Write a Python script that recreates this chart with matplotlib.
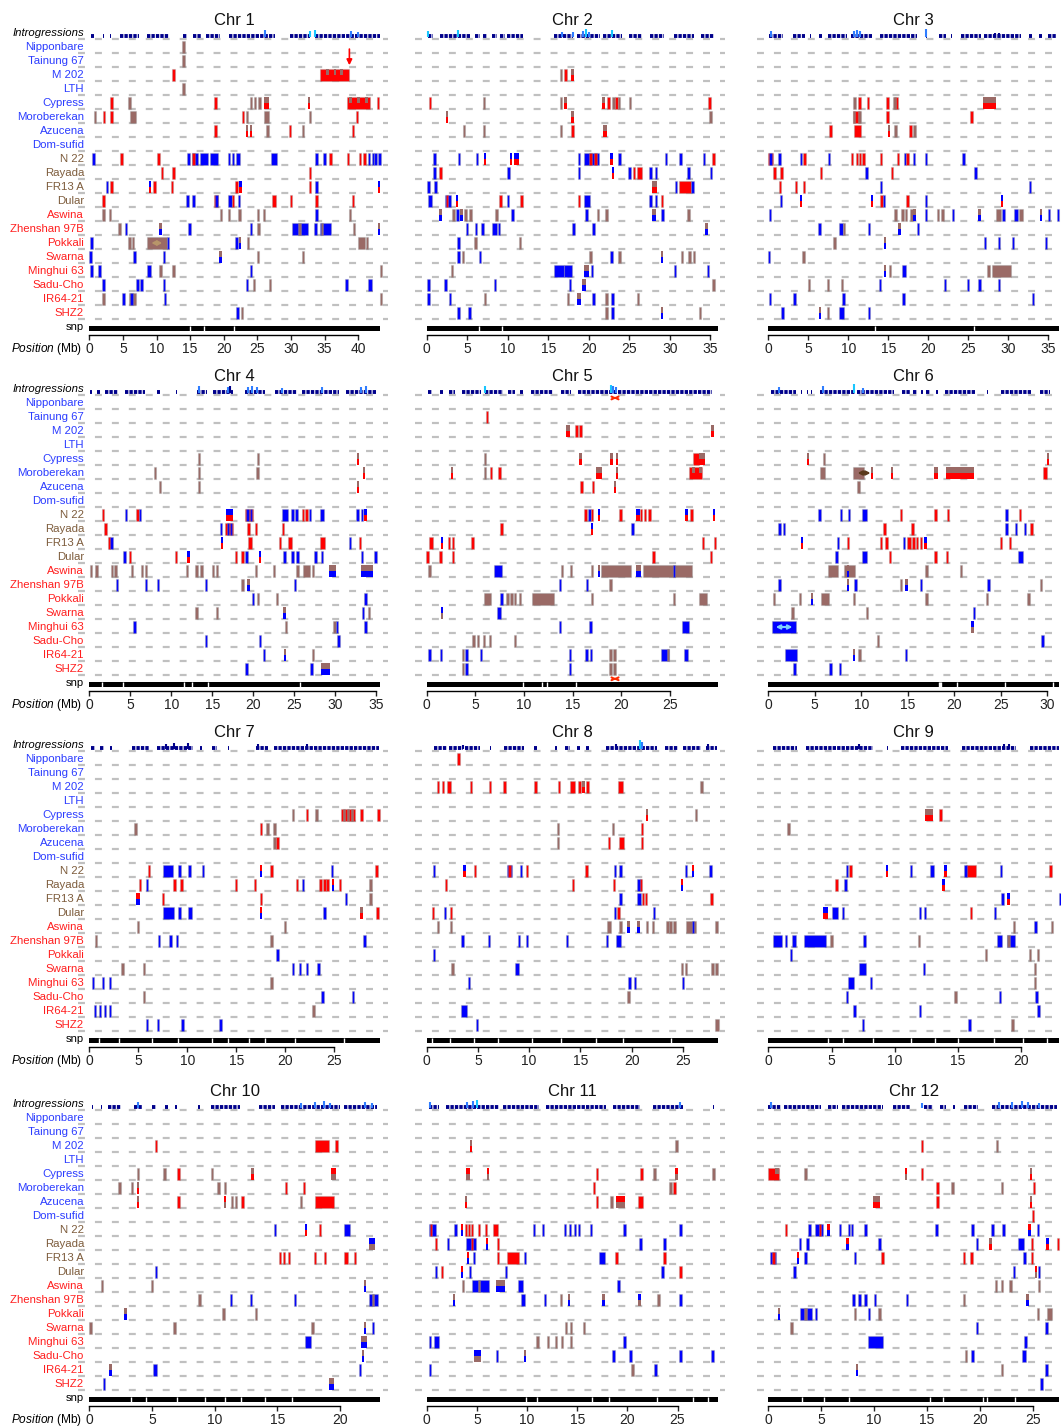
import matplotlib
matplotlib.use('Agg')
import matplotlib.pyplot as plt
from matplotlib import transforms
from matplotlib.patches import Rectangle

plt.rcParams['font.family'] = ['Liberation Sans', 'DejaVu Sans']
plt.rcParams['mathtext.fontset'] = 'custom'
plt.rcParams['mathtext.rm'] = 'Liberation Sans'
plt.rcParams['mathtext.it'] = 'Liberation Sans:italic'
plt.rcParams['lines.scale_dashes'] = False

accessions = ['Nipponbare', 'Tainung 67', 'M 202', 'LTH', 'Cypress', 'Moroberekan',
              'Azucena', 'Dom-sufid', 'N 22', 'Rayada', 'FR13 A', 'Dular', 'Aswina',
              'Zhenshan 97B', 'Pokkali', 'Swarna', 'Minghui 63', 'Sadu-Cho', 'IR64-21', 'SHZ2']
label_colors = ['#2b3cff'] * 8 + ['#7d5c3c'] * 4 + ['#ff1e1e'] * 8

chr_names = ['Chr %d' % i for i in range(1, 13)]
chr_len = [43.3, 35.9, 36.4, 35.5, 29.9, 31.3, 29.7, 28.4, 23.0, 23.2, 29.0, 27.5]

# segments per accession row: (pos, code) or (start, end, code)
# code: r red, b blue, m brown; two letters = top half / bottom half
chr1_segs = [
    [(14.0, 'm')],
    [(14.0, 'm')],
    [(12.5, 'r'), (34.4, 38.7, 'r'), (35.3, 35.6, 'mr'), (36.4, 36.7, 'mr'), (37.4, 37.6, 'mr')],
    [(14.0, 'm')],
    [(3.3, 'r'), (6.0, 'm'), (18.8, 'r'), (24.1, 'm'), (24.7, 'm'), (25.3, 'm'), (26.0, 26.7, 'mr'), (32.7, 'mr'),
     (38.4, 41.7, 'r'), (38.7, 39.1, 'mr'), (39.9, 40.3, 'mr'), (41.0, 41.4, 'mr'), (43.0, 'r')],
    [(0.85, 'm'), (2.2, 'r'), (3.3, 'r'), (6.0, 6.9, 'm'), (22.9, 'r'), (23.5, 'm'), (26.0, 26.7, 'm'), (32.8, 'm'), (39.8, 'r')],
    [(18.8, 'r'), (23.5, 'mr'), (24.1, 'mr'), (26.5, 'm'), (29.9, 'r'), (31.8, 'm'), (39.2, 'r')],
    [],
    [(0.6, 'b'), (4.8, 'r'), (10.3, 'r'), (14.6, 15.0, 'b'), (15.3, 16.2, 'b'), (16.5, 17.7, 'b'), (18.0, 19.1, 'b'),
     (15.5, 'r'), (20.7, 20.9, 'b'), (21.2, 21.5, 'b'), (21.8, 22.4, 'b'), (27.1, 27.9, 'b'), (33.8, 'b'), (35.0, 'b'),
     (35.9, 'r'), (38.5, 'r'), (40.1, 40.4, 'r'), (40.8, 41.1, 'r'), (41.6, 'b'), (42.2, 'b'), (42.6, 'b'), (43.2, 'b')],
    [(10.8, 'r'), (12.5, 'r'), (32.8, 'r')],
    [(2.6, 'b'), (3.3, 'r'), (9.0, 'br'), (9.7, 'r'), (12.3, 'r'), (21.7, 22.2, 'r'), (22.5, 'br'), (32.8, 'r'), (33.8, 'b'), (43.1, 'br')],
    [(2.1, 'r'), (14.6, 'b'), (15.5, 'b'), (18.6, 19.1, 'r'), (18.9, 'b'), (20.7, 21.2, 'b'), (21.4, 'r'), (22.3, 'b'),
     (27.2, 27.8, 'r'), (29.8, 30.2, 'r'), (33.8, 'r'), (39.2, 'r')],
    [(2.1, 'm'), (3.1, 'm'), (19.6, 'm'), (20.8, 'm'), (22.2, 22.6, 'm'), (25.1, 'm'), (26.0, 'm'), (33.8, 'b'), (38.8, 'm')],
    [(4.5, 'm'), (5.5, 'b'), (10.6, 'mb'), (14.9, 'b'), (24.1, 'b'), (25.2, 'm'), (30.2, 32.6, 'b'), (31.3, 'm'),
     (33.4, 33.9, 'b'), (34.3, 35.9, 'b'), (34.6, 'm'), (39.4, 'm'), (43.1, 'mb')],
    [(0.1, 0.6, 'b'), (6.0, 'm'), (6.5, 'm'), (8.6, 11.5, 'm'), (11.5, 11.9, 'b'), (21.9, 'b'), (22.3, 22.6, 'mb'),
     (23.6, 'm'), (40.0, 41.0, 'm'), (41.3, 'm')],
    [(0.2, 'b'), (6.7, 'b'), (11.1, 'b'), (19.5, 'mb'), (25.1, 'm'), (31.8, 'm')],
    [(0.1, 0.5, 'b'), (1.5, 'b'), (8.6, 9.2, 'b'), (10.6, 'm'), (12.5, 'm'), (24.1, 'b'), (43.4, 'm')],
    [(2.1, 'b'), (7.1, 7.3, 'b'), (7.6, 7.9, 'b'), (11.1, 'b'), (23.5, 'b'), (24.5, 'm'), (26.9, 'm'), (38.3, 'b'), (41.5, 42.0, 'b')],
    [(2.1, 'm'), (5.1, 'b'), (5.9, 6.9, 'm'), (6.3, 'b'), (11.1, 11.4, 'b'), (43.4, 'm')],
    [(21.9, 22.3, 'b'), (22.7, 'm')],
]

chr2_segs = [
    [], [],
    [(16.6, 'm'), (17.1, 'r'), (18.0, 'mr')],
    [],
    [(0.4, 'r'), (7.1, 'm'), (16.6, 'm'), (17.1, 'mr'), (21.6, 22.0, 'mr'), (22.2, 22.6, 'r'), (22.9, 23.2, 'm'),
     (23.4, 'r'), (23.7, 'm'), (24.9, 25.2, 'm'), (34.9, 'r')],
    [(2.5, 'mr'), (18.0, 'mr'), (35.0, 'm')],
    [(4.6, 'm'), (7.1, 'm'), (16.6, 'm'), (18.0, 'r'), (21.8, 22.2, 'mr')],
    [],
    [(0.95, 'b'), (4.0, 'b'), (6.2, 'b'), (7.2, 'br'), (10.4, 'br'), (10.8, 11.4, 'br'), (18.8, 'b'), (19.4, 21.2, 'b'),
     (20.2, 'r'), (20.8, 'r'), (22.8, 'br'), (23.8, 'b'), (29.5, 'b'), (31.3, 'b'), (34.2, 'b'), (35.4, 'r')],
    [(0.95, 'b'), (1.7, 'r'), (10.0, 10.2, 'b'), (18.8, 'b'), (23.0, 'br'), (25.0, 'b'), (25.4, 25.7, 'r'), (25.9, 26.6, 'r'),
     (27.6, 'b'), (28.3, 'b'), (32.3, 'b'), (35.1, 'b')],
    [(0.2, 'b'), (1.1, 'b'), (27.8, 28.4, 'mr'), (30.6, 30.9, 'b'), (31.1, 32.6, 'r'), (32.8, 'b')],
    [(0.1, 0.6, 'b'), (2.2, 3.0, 'b'), (2.5, 'r'), (3.6, 3.9, 'br'), (9.1, 'r'), (10.0, 'b'), (11.7, 'r'), (18.8, 'r'),
     (19.4, 20.2, 'b'), (27.6, 'b'), (28.3, 'b'), (29.0, 'r')],
    [(1.7, 'mb'), (3.2, 3.4, 'm'), (3.8, 'b'), (4.3, 'mb'), (4.8, 'm'), (5.4, 'm'), (8.6, 'm'), (10.6, 'b'), (19.7, 'b'),
     (21.1, 'm'), (22.2, 'm'), (27.8, 28.3, 'mb'), (29.1, 'b'), (32.3, 'm')],
    [(5.0, 'b'), (6.1, 'b'), (6.9, 'b'), (8.0, 8.7, 'b'), (8.9, 'b'), (18.1, 'b'), (20.6, 'b'), (34.5, 'mb')],
    [(3.9, 'b'), (6.0, 'm'), (11.5, 'm')],
    [(3.9, 'b'), (4.5, 'm'), (6.6, 'b'), (20.2, 'm'), (22.8, 'b'), (23.8, 'm'), (29.0, 'mb'), (31.5, 'm'), (32.3, 32.5, 'm'), (33.0, 'm')],
    [(3.1, 'm'), (15.7, 16.9, 'b'), (17.0, 17.9, 'b'), (19.4, 20.0, 'mb'), (20.4, 'b'), (30.6, 'b'), (34.7, 'b')],
    [(0.2, 'b'), (2.3, 'b'), (8.4, 'b'), (17.7, 'b'), (19.2, 19.6, 'mb'), (35.4, 'm')],
    [(0.2, 'b'), (2.9, 'b'), (7.2, 'm'), (17.3, 17.6, 'm'), (18.6, 19.0, 'mb'), (20.6, 'b'), (22.2, 'm'), (22.9, 'b'), (26.1, 'm')],
    [(3.9, 'b'), (5.2, 5.4, 'b'), (22.2, 'm'), (22.9, 'b'), (29.0, 'mb'), (33.7, 'm')],
]

chr3_segs = [
    [], [], [], [],
    [(10.8, 'm'), (11.4, 'r'), (12.5, 'r'), (14.9, 'r'), (15.7, 16.2, 'r'), (15.8, 'm'), (26.9, 28.5, 'mr')],
    [(10.6, 11.5, 'r'), (10.7, 'm'), (11.4, 'm'), (14.9, 'r'), (25.2, 25.6, 'r')],
    [(7.8, 'r'), (10.7, 11.6, 'r'), (15.1, 'mr'), (15.9, 'm'), (17.8, 'r'), (18.3, 'm')],
    [],
    [(0.0, 0.6, 'r'), (0.3, 'b'), (1.4, 'b'), (4.1, 'b'), (4.4, 4.7, 'r'), (7.6, 'b'), (10.3, 10.6, 'r'), (11.1, 'r'),
     (11.5, 'r'), (11.9, 'r'), (14.1, 'r'), (16.2, 'r'), (17.1, 'b'), (17.4, 'r'), (18.2, 'b'), (19.7, 'b'), (24.4, 'b')],
    [(0.8, 'r'), (1.5, 1.9, 'r'), (6.6, 'r'), (12.3, 'b'), (15.5, 'r'), (25.9, 'b')],
    [(1.5, 'r'), (3.5, 'r'), (4.5, 'r'), (14.1, 'b'), (32.7, 'b')],
    [(1.5, 1.7, 'b'), (4.1, 'br'), (13.0, 'br'), (14.0, 14.4, 'r'), (14.5, 'b'), (17.4, 'r'), (19.7, 'b'), (29.2, 'br')],
    [(0.2, 'b'), (15.9, 'm'), (16.8, 'm'), (17.2, 'm'), (17.9, 'm'), (18.3, 'mb'), (19.7, 'b'), (21.2, 'm'), (21.8, 'm'),
     (23.1, 'b'), (26.4, 'mb'), (28.5, 29.1, 'm'), (29.4, 'b'), (30.7, 31.2, 'b'), (31.3, 31.9, 'm'), (34.1, 'mb'),
     (35.1, 'b'), (36.2, 'b')],
    [(6.4, 'b'), (8.9, 9.4, 'b'), (9.5, 'm'), (12.6, 'b'), (16.2, 16.6, 'mb'), (18.7, 'b')],
    [(8.1, 8.5, 'm'), (14.6, 'mb'), (27.1, 'b'), (28.7, 29.0, 'b'), (30.6, 'b'), (34.7, 'b')],
    [(0.1, 'b'), (4.4, 'm')],
    [(14.6, 'mb'), (15.2, 'm'), (16.7, 17.2, 'b'), (27.3, 27.7, 'm'), (28.0, 30.3, 'm')],
    [(5.1, 'm'), (7.5, 'm'), (9.2, 'm'), (14.0, 'b'), (22.1, 'b'), (24.9, 25.1, 'b'), (26.4, 'b'), (28.7, 29.0, 'b')],
    [(0.2, 'b'), (3.3, 'b'), (9.4, 'b'), (16.9, 'b'), (33.1, 'b')],
    [(1.8, 'b'), (6.5, 'mb'), (7.5, 'm'), (8.9, 9.5, 'b'), (12.6, 'b')],
]

chr4_segs = [
    [], [], [], [],
    [(13.4, 'm'), (20.6, 'm'), (32.8, 'mr')],
    [(8.0, 'm'), (13.4, 'm'), (20.5, 'm'), (33.5, 'mr')],
    [(8.6, 'm'), (13.4, 'm'), (32.8, 'mr')],
    [],
    [(1.7, 'r'), (4.5, 'b'), (5.9, 'r'), (6.2, 'b'), (16.7, 17.5, 'br'), (19.0, 20.0, 'r'), (19.3, 'b'), (19.7, 'b'),
     (23.5, 24.2, 'b'), (24.8, 'b'), (25.3, 'b'), (26.1, 'r'), (26.5, 'r'), (26.9, 'b'), (28.1, 28.6, 'b'), (32.7, 'b'),
     (33.3, 'b'), (33.7, 'br')],
    [(2.0, 'r'), (16.1, 'b'), (16.6, 17.5, 'r'), (16.9, 'b'), (17.3, 'b'), (19.4, 'r'), (20.2, 20.5, 'r'), (23.6, 'r')],
    [(2.4, 2.9, 'b'), (2.4, 'r'), (16.2, 'br'), (19.4, 19.8, 'r'), (23.3, 'r'), (24.3, 24.7, 'r'), (28.2, 28.7, 'r'),
     (31.8, 'b'), (33.0, 'r')],
    [(4.3, 'b'), (5.0, 'r'), (10.6, 'r'), (12.0, 12.2, 'br'), (17.9, 'r'), (18.7, 'r'), (19.2, 'b'), (20.8, 'br'),
     (23.6, 24.0, 'b'), (24.8, 'b'), (25.4, 'b'), (27.5, 27.7, 'b'), (28.4, 'b'), (33.3, 'b'), (34.9, 'b')],
    [(0.1, 0.3, 'm'), (0.9, 'm'), (2.8, 'm'), (3.2, 'm'), (5.2, 'm'), (6.4, 'm'), (6.9, 'm'), (11.9, 'm'), (13.1, 'm'),
     (13.7, 'm'), (15.1, 'm'), (15.6, 'm'), (20.3, 'm'), (22.5, 'm'), (25.4, 'm'), (26.1, 26.9, 'm'), (27.3, 'm'),
     (29.3, 30.1, 'mb'), (33.2, 34.6, 'mb')],
    [(3.4, 'b'), (6.9, 'b'), (8.4, 'b'), (14.2, 'b'), (18.7, 'm'), (19.4, 'mb'), (25.1, 'b')],
    [(19.9, 20.1, 'b'), (20.4, 20.7, 'm'), (22.9, 'm'), (33.7, 'b')],
    [(13.1, 'm'), (15.6, 'm'), (23.8, 'mb'), (33.4, 'b'), (34.1, 'm')],
    [(5.4, 5.6, 'b'), (24.0, 'm'), (29.9, 'm'), (30.2, 'b'), (33.7, 'b')],
    [(14.2, 'b'), (20.8, 'b'), (30.4, 'b')],
    [(21.3, 'b'), (23.8, 24.0, 'mb'), (27.3, 'm')],
    [(19.2, 'b'), (27.1, 'b'), (28.3, 29.4, 'mb')],
]

chr5_segs = [
    [],
    [(6.2, 'r')],
    [(14.3, 14.7, 'mr'), (15.4, 'r'), (15.8, 'r'), (29.2, 29.5, 'mr')],
    [],
    [(6.0, 'm'), (15.8, 'mr'), (19.0, 'mr'), (19.4, 19.7, 'mr'), (27.4, 28.0, 'r'), (28.0, 28.6, 'mr')],
    [(2.6, 'mr'), (6.0, 'm'), (6.6, 'r'), (7.5, 'r'), (17.4, 18.0, 'mr'), (19.4, 19.7, 'mr'), (27.0, 28.3, 'r'),
     (27.3, 27.6, 'mr'), (28.0, 28.3, 'mr')],
    [(15.9, 'r'), (17.0, 17.2, 'r'), (19.3, 19.4, 'mr')],
    [],
    [(16.2, 16.4, 'r'), (16.6, 16.9, 'b'), (17.0, 'r'), (17.7, 'br'), (19.9, 'r'), (21.5, 21.9, 'br'), (22.0, 'r'),
     (22.4, 'r'), (22.7, 23.0, 'r'), (26.7, 'br'), (27.2, 'r'), (29.5, 'br')],
    [(7.7, 'r'), (17.0, 'br'), (21.1, 21.2, 'b')],
    [(0.2, 0.6, 'r'), (1.6, 'br'), (2.3, 'r'), (2.7, 'r'), (4.7, 'r'), (28.4, 'r'), (29.6, 'r')],
    [(0.1, 'r'), (1.4, 'r'), (2.7, 'r'), (23.3, 'r'), (29.2, 'r')],
    [(0.3, 'm'), (6.9, 7.7, 'b'), (13.9, 'm'), (14.8, 'm'), (17.0, 'm'), (17.7, 'mb'), (17.9, 21.0, 'm'),
     (21.5, 22.0, 'mb'), (22.2, 27.3, 'm'), (25.4, 'b')],
    [(13.7, 'b'), (16.5, 'b'), (18.9, 'm')],
    [(5.9, 6.6, 'm'), (7.7, 'b'), (8.3, 'm'), (8.7, 'm'), (9.1, 'm'), (9.6, 'm'), (10.8, 13.1, 'm'), (17.0, 'm'),
     (25.4, 'm'), (28.0, 28.8, 'm')],
    [(1.5, 1.7, 'bm'), (7.2, 7.6, 'b')],
    [(13.7, 'b'), (16.7, 17.0, 'b'), (26.2, 26.9, 'b')],
    [(4.8, 'm'), (5.3, 'm'), (5.9, 'm'), (6.5, 'm'), (9.1, 'm')],
    [(0.3, 'b'), (1.5, 'b'), (3.7, 'm'), (4.1, 'b'), (5.6, 'b'), (14.7, 'b'), (16.4, 'b'), (16.9, 'b'), (18.9, 'm'),
     (19.3, 'm'), (24.1, 24.9, 'b'), (24.8, 'm'), (26.4, 26.8, 'b')],
    [(3.7, 'm'), (4.1, 'b'), (14.7, 'b'), (18.9, 'm'), (19.3, 'm')],
]

chr6_segs = [
    [], [], [], [],
    [(4.3, 'mr'), (5.9, 6.1, 'm'), (30.1, 'mr')],
    [(5.6, 6.1, 'm'), (9.1, 10.3, 'm'), (11.0, 11.3, 'mr'), (13.2, 13.4, 'mr'), (17.8, 18.2, 'mr'), (19.1, 22.1, 'mr'),
     (29.6, 30.0, 'r')],
    [(9.5, 9.9, 'm')],
    [],
    [(5.5, 'b'), (7.8, 'b'), (8.7, 'b'), (10.1, 10.6, 'b'), (14.3, 'r'), (18.0, 'r'), (19.2, 19.4, 'r'), (25.6, 'b'), (27.1, 'r')],
    [(1.2, 'b'), (1.7, 'b'), (12.4, 12.6, 'r'), (15.5, 'r'), (25.6, 'b'), (26.5, 26.8, 'b'), (27.6, 'b'), (28.3, 'r')],
    [(3.6, 'br'), (7.5, 'b'), (8.6, 'r'), (12.1, 'r'), (12.6, 12.9, 'r'), (14.6, 'b'), (14.9, 15.3, 'r'), (15.6, 'r'),
     (16.0, 'r'), (16.4, 'r'), (16.9, 'br'), (25.0, 'r'), (26.0, 'r')],
    [(7.3, 7.4, 'b'), (10.1, 10.6, 'b'), (13.1, 'r'), (18.0, 'r'), (19.2, 'r'), (26.9, 27.4, 'b')],
    [(6.4, 7.5, 'm'), (8.1, 9.3, 'm'), (8.6, 'mb'), (17.0, 'm'), (20.7, 'm')],
    [(1.2, 'b'), (8.6, 'mb'), (9.4, 'b'), (14.3, 'm'), (14.7, 15.0, 'mb'), (16.4, 'b'), (23.7, 'b'), (29.3, 'm')],
    [(0.6, 'm'), (3.4, 'm'), (4.7, 'mb'), (5.7, 6.5, 'm'), (9.2, 'm'), (17.0, 'm'), (23.5, 'm'), (28.0, 'm')],
    [(2.6, 'm'), (10.6, 'm'), (22.1, 'b')],
    [(0.4, 3.0, 'b'), (21.9, 22.0, 'bm')],
    [(11.8, 'm'), (29.5, 'b')],
    [(1.8, 3.1, 'b'), (9.2, 'mb'), (9.8, 'm'), (14.8, 'b')],
    [(2.8, 'b'), (6.5, 6.9, 'b'), (7.7, 'b')],
]

chr7_segs = [
    [], [], [], [],
    [(20.8, 'm'), (22.2, 'r'), (23.2, 'm'), (25.7, 27.1, 'r'), (26.0, 'm'), (26.4, 'm'), (26.8, 'm'), (27.8, 'r'), (29.4, 29.6, 'r')],
    [(4.7, 'm'), (17.5, 'r'), (18.2, 'm'), (18.9, 'm')],
    [(18.9, 'm'), (19.2, 'r')],
    [],
    [(6.1, 'r'), (7.5, 8.5, 'b'), (9.2, 'b'), (10.1, 10.4, 'b'), (11.6, 'b'), (17.5, 'rb'), (18.6, 'r'), (24.8, 'b'), (29.3, 'r')],
    [(5.2, 'r'), (5.9, 'b'), (8.7, 'r'), (9.4, 'r'), (15.0, 'r'), (16.9, 'r'), (21.2, 'r'), (21.8, 'b'), (23.6, 'r'),
     (24.0, 'r'), (24.3, 'r'), (24.9, 'rb'), (25.6, 'r'), (28.7, 'm')],
    [(4.8, 5.2, 'rb'), (7.5, 'r'), (17.5, 'r'), (26.2, 'b'), (28.7, 'm')],
    [(7.5, 8.6, 'b'), (9.2, 'b'), (10.1, 10.5, 'b'), (17.5, 'rb'), (24.0, 'b'), (27.8, 'mr'), (29.4, 'r')],
    [(5.0, 'm'), (20.0, 'm')],
    [(0.7, 'm'), (7.1, 'b'), (8.3, 'b'), (8.8, 9.1, 'b'), (18.6, 'm'), (28.1, 'b')],
    [(19.2, 'b')],
    [(3.4, 'm'), (5.6, 'm'), (20.8, 'b'), (21.5, 'b'), (22.2, 'b'), (23.2, 23.5, 'b')],
    [(0.4, 'b'), (1.4, 'b'), (2.1, 'b'), (18.6, 'm')],
    [(5.6, 'm'), (23.8, 'b'), (26.9, 'b')],
    [(0.6, 'b'), (1.1, 'b'), (1.6, 'b'), (2.1, 'b'), (22.9, 'm')],
    [(5.9, 'b'), (7.0, 'b'), (9.5, 'b'), (13.4, 'b')],
]

chr8_segs = [
    [(3.1, 'r')],
    [],
    [(1.1, 'r'), (1.6, 'r'), (2.0, 2.4, 'r'), (4.3, 'r'), (6.2, 'r'), (7.6, 'r'), (10.6, 'r'), (12.9, 'r'), (14.0, 14.5, 'r'),
     (14.9, 'r'), (15.3, 'mr'), (15.7, 'r'), (18.7, 19.2, 'r'), (26.8, 'm')],
    [],
    [(21.5, 'mr'), (26.3, 'm')],
    [(12.8, 'm'), (18.2, 'm'), (21.0, 'r')],
    [(12.8, 'm'), (17.8, 'r'), (18.8, 19.3, 'r'), (21.0, 'r')],
    [],
    [(0.7, 'b'), (3.7, 'br'), (4.7, 'r'), (7.8, 8.3, 'b'), (8.1, 'r'), (9.2, 'b'), (9.8, 'r'), (15.6, 'r'), (18.4, 'b'),
     (18.9, 'b'), (25.3, 'b'), (26.0, 'rb'), (27.7, 'b')],
    [(1.9, 'r'), (14.3, 'r'), (18.3, 'r'), (20.5, 20.9, 'b'), (20.9, 'r'), (24.9, 'rb')],
    [(18.9, 'b'), (20.5, 20.9, 'b'), (21.1, 'r'), (21.4, 'r'), (27.8, 'r')],
    [(0.6, 'r'), (1.8, 'b'), (2.4, 'r'), (18.4, 'b'), (18.7, 'r'), (22.2, 'b')],
    [(1.1, 'm'), (2.4, 'm'), (17.6, 18.0, 'm'), (18.9, 'm'), (19.7, 'mb'), (20.5, 20.8, 'mb'), (21.5, 'm'), (22.1, 'm'),
     (23.5, 'm'), (23.8, 'm'), (24.2, 'm'), (25.3, 26.3, 'm'), (26.0, 'b'), (28.3, 'm')],
    [(3.5, 'b'), (6.1, 'b'), (9.0, 'b'), (9.8, 'b'), (13.7, 'b'), (17.6, 'b'), (18.5, 19.0, 'b')],
    [(0.7, 'b')],
    [(2.5, 'm'), (8.6, 9.0, 'b'), (24.9, 'm'), (25.3, 'm'), (27.9, 'm'), (28.3, 'm')],
    [(4.1, 'b'), (19.8, 'b'), (20.3, 'b'), (25.0, 'b')],
    [(19.7, 'm')],
    [(3.3, 3.9, 'b')],
    [(4.9, 'b'), (28.1, 28.5, 'm')],
]

chr9_segs = [
    [], [], [], [],
    [(12.4, 13.0, 'mr'), (13.5, 13.7, 'r')],
    [(1.6, 'm')],
    [], [],
    [(6.2, 'b'), (6.5, 'r'), (9.4, 'br'), (11.3, 'b'), (12.8, 13.1, 'b'), (14.0, 'br'), (15.6, 16.4, 'r'), (15.6, 'b'),
     (18.3, 18.5, 'b'), (22.3, 'r')],
    [(5.4, 'r'), (6.1, 'b'), (13.7, 14.0, 'br')],
    [(18.5, 'b'), (19.0, 'br'), (23.1, 'b')],
    [(4.3, 4.7, 'br'), (5.0, 5.5, 'b'), (5.9, 'b'), (12.0, 'b'), (12.4, 'b'), (16.0, 'r'), (17.9, 'b')],
    [(19.4, 'm'), (21.0, 21.2, 'b'), (22.4, 'm')],
    [(0.4, 1.1, 'b'), (1.3, 1.5, 'b'), (1.9, 2.2, 'b'), (2.8, 4.6, 'b'), (5.0, 'm'), (7.6, 'b'), (11.9, 'm'),
     (18.1, 18.5, 'b'), (18.9, 19.5, 'b'), (19.0, 'm')],
    [(1.7, 1.9, 'b'), (17.2, 'm'), (20.7, 'm'), (21.3, 'm')],
    [(7.2, 7.7, 'b'), (12.3, 'b'), (21.1, 'm')],
    [(6.3, 6.8, 'b'), (8.1, 'b'), (21.1, 'm')],
    [(6.2, 'b'), (14.8, 'm'), (18.3, 'b'), (21.2, 'b')],
    [(6.8, 'b'), (12.0, 'b'), (21.2, 21.5, 'b')],
    [(7.4, 7.6, 'b'), (15.9, 'b'), (19.3, 'm')],
]

chr10_segs = [
    [], [],
    [(5.3, 'r'), (18.0, 19.1, 'r'), (19.7, 'r')],
    [],
    [(3.9, 'm'), (6.0, 'm'), (7.1, 'r'), (9.8, 'm'), (12.9, 13.1, 'mr'), (19.3, 19.7, 'rm')],
    [(2.4, 'm'), (3.4, 'm'), (3.9, 'mr'), (10.3, 'm'), (10.8, 'm'), (15.7, 'r'), (17.1, 'r')],
    [(3.9, 'mr'), (7.1, 'r'), (10.8, 'rm'), (11.4, 'm'), (11.7, 'm'), (12.2, 'r'), (16.9, 'm'), (18.0, 19.5, 'r')],
    [],
    [(14.8, 'b'), (17.3, 'br'), (18.4, 'r'), (20.3, 20.8, 'b')],
    [(22.3, 22.8, 'bm')],
    [(15.2, 'r'), (15.5, 'r'), (15.9, 'r'), (18.0, 'r'), (18.8, 'r'), (20.3, 20.6, 'r'), (21.2, 'r')],
    [(5.3, 'b')],
    [(1.0, 'm'), (5.0, 'm'), (22.0, 'mb')],
    [(8.8, 'm'), (11.3, 'b'), (12.9, 'b'), (16.4, 'b'), (22.3, 23.0, 'b'), (22.6, 'm')],
    [(2.9, 'mb'), (10.7, 'm'), (13.3, 'm')],
    [(0.1, 'm'), (6.8, 'm'), (17.8, 'm'), (22.0, 'mb'), (22.6, 'b')],
    [(17.2, 17.7, 'b'), (21.7, 22.1, 'mb')],
    [(21.8, 'mb')],
    [(1.7, 'mb'), (5.1, 5.4, 'b'), (21.6, 'b')],
    [(1.1, 1.2, 'b'), (19.1, 19.5, 'mb')],
]

chr11_segs = [
    [], [],
    [(4.4, 'mr'), (24.9, 'm')],
    [],
    [(3.9, 4.3, 'rm'), (6.0, 6.2, 'rm'), (17.0, 'r'), (21.4, 'r'), (22.7, 'm'), (24.9, 'rm'), (28.6, 'm')],
    [(16.7, 'r'), (24.3, 'm'), (24.7, 'r')],
    [(3.9, 'mr'), (17.0, 'r'), (18.4, 'm'), (18.9, 19.8, 'rm'), (21.1, 21.6, 'r')],
    [],
    [(0.2, 0.9, 'b'), (0.4, 'r'), (2.7, 3.0, 'b'), (3.5, 'rb'), (3.9, 'r'), (4.2, 'r'), (4.5, 'r'), (5.2, 'r'), (5.9, 'r'),
     (6.6, 7.1, 'r'), (10.7, 'b'), (11.6, 'b'), (13.8, 'b'), (14.3, 'b'), (14.8, 'b'), (15.2, 'b'), (16.4, 'b'),
     (19.7, 'b'), (25.3, 'b')],
    [(0.9, 'r'), (2.1, 'b'), (3.9, 4.9, 'b'), (4.5, 'r'), (6.0, 'rb'), (7.1, 'r'), (21.3, 'b'), (23.7, 'b')],
    [(4.1, 'rb'), (4.7, 'b'), (7.1, 'r'), (8.0, 9.2, 'r'), (9.8, 'b'), (17.2, 17.8, 'b'), (18.9, 'r'), (23.7, 'r')],
    [(0.9, 'b'), (1.5, 'r'), (3.5, 'rb'), (4.3, 'b'), (7.9, 'b'), (23.5, 'b'), (25.3, 'r')],
    [(3.6, 'm'), (4.5, 6.2, 'b'), (5.2, 'm'), (6.9, 7.8, 'mb'), (9.1, 9.6, 'b'), (19.1, 'b')],
    [(2.7, 'mb'), (9.4, 9.8, 'b'), (11.8, 'b'), (13.4, 'm'), (14.2, 'mb'), (17.6, 'mb'), (21.1, 21.4, 'bm'), (23.1, 'm'), (25.3, 'b')],
    [],
    [(13.9, 'm'), (14.4, 'm'), (15.7, 'm')],
    [(0.3, 'b'), (0.7, 1.2, 'b'), (10.9, 11.2, 'm'), (12.1, 'm'), (12.9, 'm'), (13.5, 'm'), (14.4, 'm'), (19.7, 'b')],
    [(4.7, 5.4, 'bm'), (7.0, 'b'), (9.8, 'mb'), (18.6, 'b'), (20.3, 'b'), (25.3, 'b'), (28.5, 'b')],
    [(0.3, 'b'), (20.5, 'm'), (22.8, 'b')],
    [],
]

chr12_segs = [
    [], [],
    [(14.5, 'r'), (21.6, 'm')],
    [],
    [(0.0, 1.0, 'r'), (0.6, 1.0, 'mr'), (3.5, 'm'), (13.0, 'rm'), (14.5, 'r'), (24.8, 'mr')],
    [(16.0, 'r'), (17.4, 'm'), (22.1, 'm'), (25.1, 'r')],
    [(9.9, 10.6, 'mr'), (16.0, 'r'), (24.8, 'mr')],
    [(25.0, 'r')],
    [(1.7, 'r'), (3.9, 'b'), (4.4, 5.2, 'b'), (4.9, 'r'), (5.7, 'rb'), (6.8, 'b'), (7.6, 'b'), (7.9, 'b'), (9.0, 9.3, 'b'),
     (15.9, 'b'), (19.3, 'b'), (21.2, 'b'), (22.1, 22.4, 'b'), (24.7, 'rb'), (25.5, 'b')],
    [(3.0, 'b'), (3.7, 'b'), (7.5, 'rb'), (10.5, 'b'), (19.7, 'b'), (20.9, 21.1, 'mr'), (23.6, 24.2, 'b'), (24.9, 'r'),
     (26.2, 26.5, 'br'), (27.4, 'r')],
    [(0.2, 0.7, 'b'), (0.5, 'r'), (2.8, 'rb'), (3.5, 'b'), (8.2, 'b'), (10.8, 'r'), (18.5, 'r'), (19.2, 'r'), (24.2, 'b'), (24.9, 'r')],
    [(2.3, 2.6, 'b'), (23.2, 'b'), (25.3, 'rm'), (25.6, 'b')],
    [(21.5, 'm'), (22.1, 'm'), (22.9, 'm'), (25.6, 'm')],
    [(7.9, 8.2, 'b'), (8.5, 8.7, 'b'), (9.0, 9.3, 'b'), (10.1, 'b'), (13.0, 13.2, 'b'), (18.5, 'm'), (24.5, 'mb')],
    [(1.0, 'mb'), (3.0, 4.1, 'b'), (3.5, 'm'), (4.5, 'b'), (8.2, 'm'), (9.5, 'b'), (10.5, 'm'), (25.5, 'm'), (26.3, 26.8, 'm')],
    [(2.1, 2.3, 'm'), (19.7, 'b'), (26.3, 'b')],
    [(9.4, 10.8, 'b'), (24.2, 24.4, 'b')],
    [(18.7, 'm'), (19.3, 'b'), (24.0, 24.4, 'b')],
    [(8.4, 'mb'), (22.1, 'm'), (26.3, 'b')],
    [(25.8, 'b')],
]

# introgression density track: runs of small bars, plus taller spikes (pos, height px, colour)
intro_runs = [
    [(0.2, 0.7), (1.1, 1.2), (2.1, 2.2), (3.1, 3.2), (4.5, 7.4), (8.6, 11.9), (12.4, 12.5), (14.0, 14.6), (15.4, 16.6),
     (17.4, 19.4), (20.8, 27.7), (29.8, 32.9), (33.6, 43.3)],
    [(0.1, 0.8), (1.6, 5.4), (6.0, 6.6), (7.0, 7.5), (8.0, 8.7), (9.1, 9.6), (9.9, 11.9), (15.7, 18.1), (18.5, 21.4),
     (21.8, 24.1), (24.9, 26.6), (27.6, 29.3), (30.5, 33.0), (33.8, 35.4)],
    [(0.1, 1.9), (3.1, 4.6), (5.2, 5.4), (6.3, 6.7), (7.5, 9.8), (10.3, 13.0), (14.0, 18.6), (19.7, 19.8), (21.3, 22.2),
     (22.9, 23.0), (24.1, 26.6), (27.0, 31.6), (32.6, 33.0), (33.8, 34.2), (35.0, 36.0)],
    [(0.1, 0.3), (0.9, 1.3), (1.9, 3.5), (4.3, 6.8), (8.3, 8.6), (10.6, 10.7), (12.0, 12.1), (13.1, 14.3), (15.1, 17.5),
     (19.0, 21.4), (22.6, 25.3), (25.9, 30.5), (31.3, 35.0)],
    [(0.1, 0.5), (1.4, 1.7), (2.3, 2.9), (3.6, 5.6), (6.0, 7.8), (8.4, 9.1), (9.6, 9.9), (10.7, 13.0), (13.8, 14.8), (15.5, 29.3)],
    [(0.3, 3.0), (3.5, 3.6), (4.2, 4.3), (4.6, 4.7), (5.6, 9.3), (9.5, 13.5), (14.4, 15.2), (15.6, 16.0), (16.4, 16.6),
     (17.0, 17.4), (18.0, 18.2), (19.0, 22.3), (23.5, 23.6), (25.0, 28.3), (29.2, 30.3)],
    [(0.2, 0.6), (1.1, 1.5), (2.1, 2.3), (4.4, 6.1), (6.9, 10.6), (11.3, 11.5), (12.5, 13.0), (14.2, 14.3), (17.0, 18.2), (18.9, 29.6)],
    [(0.7, 2.0), (2.2, 3.5), (3.7, 5.2), (6.2, 6.3), (7.5, 9.5), (10.5, 10.8), (12.5, 12.7), (13.5, 14.0), (14.7, 15.0),
     (15.5, 15.8), (17.5, 22.5), (23.3, 24.5), (25.0, 26.8), (27.3, 28.3)],
    [(0.4, 2.3), (3.0, 8.3), (9.4, 9.5), (10.5, 14.2), (15.3, 19.6), (20.7, 23.0)],
    [(0.2, 0.3), (0.9, 1.0), (1.5, 2.5), (3.6, 4.2), (5.0, 5.3), (6.0, 6.3), (6.8, 7.0), (8.7, 8.8), (9.7, 12.0),
     (13.5, 14.8), (15.3, 20.0), (20.3, 22.9)],
    [(0.2, 1.2), (1.9, 7.2), (7.6, 11.2), (11.9, 17.9), (18.6, 21.3), (22.6, 25.6), (28.5, 28.6)],
    [(0.0, 1.2), (1.5, 5.0), (5.6, 6.6), (7.0, 10.8), (11.8, 13.4), (14.7, 15.6), (16.2, 16.8), (17.5, 17.6),
     (18.5, 19.8), (21.1, 27.3)],
]
intro_spikes = [
    [(26.2, 7, 'l'), (32.8, 6, 'c'), (33.6, 7, 'c'), (38.9, 6, 'l'), (40.0, 5, 'l')],
    [(0.2, 6, 'c'), (3.9, 7, 'c'), (16.7, 5, 'l'), (18.0, 5, 'l'), (19.3, 6, 'l'), (19.7, 8, 'c'), (20.0, 5, 'l'), (22.9, 7, 'c')],
    [(0.3, 6, 'l'), (10.7, 6, 'l'), (11.1, 7, 'l'), (11.5, 6, 'l'), (19.7, 8, 'l'), (28.3, 4, 'n'), (28.8, 4, 'n')],
    [(13.4, 7, 'l'), (16.9, 6, 'l'), (17.2, 7, 'n'), (19.3, 6, 'l'), (19.8, 7, 'l'), (20.5, 6, 'l'), (23.5, 5, 'l'),
     (28.4, 6, 'l'), (33.1, 6, 'l'), (33.7, 7, 'l')],
    [(6.0, 7, 'c'), (18.9, 8, 'c'), (19.1, 7, 'l'), (19.4, 6, 'l')],
    [(1.1, 6, 'l'), (5.9, 7, 'l'), (9.2, 9, 'c'), (10.2, 5, 'l')],
    [(7.8, 5, 'n'), (8.6, 6, 'n'), (10.1, 6, 'n'), (17.2, 5, 'n'), (22.2, 5, 'n')],
    [(20.8, 9, 'c'), (21.0, 7, 'l'), (3.5, 4, 'n'), (18.5, 5, 'n'), (27.5, 5, 'n')],
    [(7.2, 5, 'n'), (18.6, 5, 'n'), (19.0, 5, 'n')],
    [(3.9, 6, 'l'), (16.9, 5, 'l'), (18.0, 6, 'l'), (18.7, 7, 'l'), (19.2, 5, 'l'), (22.0, 6, 'l'), (22.5, 5, 'l')],
    [(0.3, 6, 'l'), (4.0, 6, 'l'), (4.6, 7, 'l'), (5.0, 8, 'c'), (25.2, 6, 'l')],
    [(0.3, 6, 'l'), (14.5, 5, 'l'), (21.8, 6, 'l'), (23.0, 6, 'l'), (24.0, 7, 'l'), (24.5, 6, 'l'), (25.6, 5, 'l')],
]
# white gaps in the snp coverage bar (Mb)
snp_gaps = [
    [15.0, 17.1, 21.5],
    [6.4, 9.3],
    [13.4, 25.7],
    [1.5, 4.1, 11.5, 12.5, 14.5, 25.7],
    [9.9, 11.8, 12.4, 15.3],
    [18.4, 18.5, 18.6, 20.3, 25.5, 30.6],
    [1.0, 3.0, 6.4, 9.1, 12.5, 14.2, 16.3, 17.9, 21.0, 26.0],
    [0.5, 2.3, 4.6, 7.0, 10.3, 13.1, 16.5, 19.2, 23.8],
    [4.7, 5.9, 8.3, 11.3, 13.2, 15.0, 17.8, 20.1, 22.0],
    [3.3, 4.5, 7.0, 9.2, 10.8, 12.1, 14.0, 16.2],
    [9.9, 11.0, 16.5, 18.2, 23.0, 26.5, 28.0],
    [3.2, 5.3, 7.6, 15.3, 16.5, 20.3, 20.7, 23.3],
]

all_segs = [chr1_segs, chr2_segs, chr3_segs, chr4_segs, chr5_segs, chr6_segs,
            chr7_segs, chr8_segs, chr9_segs, chr10_segs, chr11_segs, chr12_segs]

seg_colors = {'r': '#ff0000', 'b': '#0000ff', 'm': '#9a6a66'}
spike_colors = {'l': '#2f7dff', 'c': '#19c6ff', 'n': '#00008b'}

W, H = 1061, 1428
fig = plt.figure(figsize=(W / 100, H / 100), dpi=100)

col_x0 = [89.3, 426.7, 768.3]
row_y0 = [33, 389, 745, 1104]
span_px = 291.0
row_px = 14.0

for c in range(12):
    L = chr_len[c]
    x0 = col_x0[c % 3]
    yc = row_y0[c // 3]
    left = x0 - 0.04 * span_px
    top = yc - 1.2 * row_px
    ax = fig.add_axes([left / W, 1 - (top + 22.8 * row_px) / H, 1.065 * span_px / W, 22.8 * row_px / H])
    ax.set_xlim(-0.04 * L, 1.025 * L)
    ax.set_ylim(21.6, -1.2)
    minw = 2.4 * L / span_px

    # dashed baselines
    for k in range(21):
        ax.axhline(k + 0.43, color='#c0c0c0', lw=1.6, dashes=(5, 7.2), zorder=0)

    # introgression track
    for s, e in intro_runs[c]:
        ax.hlines(0.2, s, e, colors='#00008b', lw=2.8, linestyles=(0, (2.4, 0.8)), zorder=2)
    for x, h, col in intro_spikes[c]:
        ax.vlines(x, 0.3 - h / row_px, 0.3, colors=spike_colors[col], lw=1.5, zorder=3)

    # introgression segments
    for i, row in enumerate(all_segs[c]):
        k = i + 1
        for seg in row:
            if len(seg) == 2:
                s, e, code = seg[0], seg[0], seg[1]
            else:
                s, e, code = seg
            if e - s < minw:
                mid = (s + e) / 2
                s, e = mid - minw / 2, mid + minw / 2
            if len(code) == 1:
                ax.add_patch(Rectangle((s, k - 0.42), e - s, 0.84, facecolor=seg_colors[code],
                                       edgecolor=(0.6, 0.6, 0.6, 0.35), lw=0.8, zorder=4))
            else:
                ax.add_patch(Rectangle((s, k - 0.42), e - s, 0.42, facecolor=seg_colors[code[0]], lw=0, zorder=4))
                ax.add_patch(Rectangle((s, k), e - s, 0.42, facecolor=seg_colors[code[1]], lw=0, zorder=4))

    # snp coverage bar
    ax.add_patch(Rectangle((0, 21.1 - 0.2), L, 0.4, facecolor='black', lw=0, zorder=4))
    for g in snp_gaps[c]:
        ax.vlines(g, 20.9, 21.3, colors='white', lw=1.0, zorder=5)

    # x axis
    ticks = list(range(0, int(L) + 1, 5))
    ax.set_xticks(ticks)
    ax.set_yticks([])
    for sp in ['left', 'right', 'top']:
        ax.spines[sp].set_visible(False)
    ax.spines['bottom'].set_bounds(0, ticks[-1])
    ax.spines['bottom'].set_linewidth(1.0)
    ax.tick_params(axis='x', length=3.5, width=1.0, labelsize=10, pad=1.5, colors='#222222')
    ax.patch.set_alpha(0)

    ax.text(L / 2, -0.86, chr_names[c], ha='center', va='center', fontsize=12, color='#111111')

    if c % 3 == 0:
        tr = transforms.blended_transform_factory(fig.transFigure, ax.transData)
        lx = 84.0 / W
        ax.text(lx, 0, 'Introgressions', transform=tr, ha='right', va='center', fontsize=8.2, style='italic')
        for i, name in enumerate(accessions):
            ax.text(lx, i + 1, name, transform=tr, ha='right', va='center', fontsize=8.2, color=label_colors[i])
        ax.text(lx, 21.0, 'snp', transform=tr, ha='right', va='center', fontsize=8.2)
        ax.text(82.0 / W, 22.57, r'$\mathit{Position}$ (Mb)', transform=tr, ha='right', va='center', fontsize=8.6)

    # markers of particular regions
    if c == 0:
        ax.annotate('', xy=(38.7, 2.5), xytext=(38.7, 0.95),
                    arrowprops=dict(arrowstyle='-|>', color='red', lw=1.2, mutation_scale=8))
        ax.annotate('', xy=(8.8, 15), xytext=(11.3, 15),
                    arrowprops=dict(arrowstyle='<->', color='#b8956a', lw=1.5, mutation_scale=6), zorder=6)
    if c == 4:
        for yy in (0.64, 20.7):
            ax.annotate('', xy=(18.9, yy), xytext=(19.8, yy),
                        arrowprops=dict(arrowstyle='<->', color='#ff2a00', lw=1.5, mutation_scale=5))
    if c == 5:
        ax.annotate('', xy=(9.3, 6), xytext=(11.3, 6),
                    arrowprops=dict(arrowstyle='<->', color='#5a3a1c', lw=1.5, mutation_scale=6), zorder=6)
        ax.annotate('', xy=(0.5, 17), xytext=(2.9, 17),
                    arrowprops=dict(arrowstyle='<->', color='#7fd0ff', lw=1.5, mutation_scale=6), zorder=6)

fig.savefig('out.png', dpi=100)
